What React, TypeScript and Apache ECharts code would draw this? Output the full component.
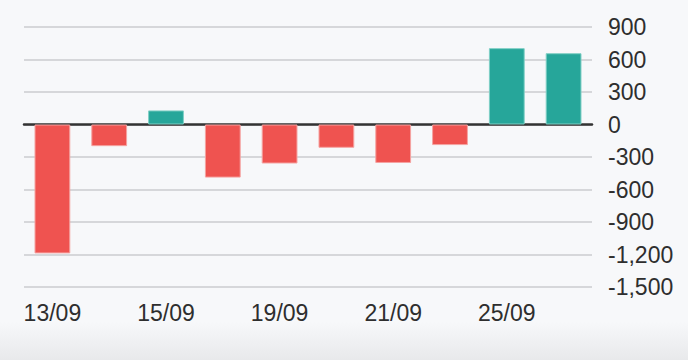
import React, { useEffect, useRef } from "react";
import * as echarts from "echarts";

const categories = ["13/09", "14/09", "15/09", "18/09", "19/09", "20/09", "21/09", "22/09", "25/09", "26/09"];
const values = [-1190, -200, 130, -490, -360, -215, -355, -190, 705, 658];
const yMin = -1500;
const yMax = 900;
const yStep = 300;

const UP = "#26a69a";
const UP_BORDER = "#7fcfc5";
const DOWN = "#ef5350";
const DOWN_BORDER = "#f5a3a1";

export default function App() {
  const ref = useRef<HTMLDivElement>(null);
  useEffect(() => {
    document.body.style.margin = "0";
    const chart = echarts.init(ref.current!, null, { renderer: "svg" });
    const font = "'Liberation Sans', Arial, Helvetica, sans-serif";
    chart.setOption({
      animation: false,
      backgroundColor: "transparent",
      grid: { left: 24, right: 96, top: 27, bottom: 73 },
      xAxis: [
        {
          type: "category",
          data: categories,
          position: "bottom",
          axisLine: { show: false, onZero: false },
          axisTick: { show: false },
          splitLine: { show: false },
          axisLabel: {
            interval: 1,
            margin: 14,
            color: "#2e2e2e",
            fontSize: 23,
            fontFamily: font,
          },
        },
        {
          type: "category",
          data: categories,
          position: "bottom",
          axisLine: { show: true, onZero: true, lineStyle: { color: "#333333", width: 2.5 } },
          axisTick: { show: false },
          axisLabel: { show: false },
          splitLine: { show: false },
        },
      ],
      yAxis: {
        type: "value",
        position: "right",
        min: yMin,
        max: yMax,
        interval: yStep,
        axisLine: { show: false },
        axisTick: { show: false },
        splitLine: { show: true, lineStyle: { color: "#cbcccf", width: 1.6 } },
        axisLabel: {
          margin: 16,
          color: "#2e2e2e",
          fontSize: 23,
          fontFamily: font,
          formatter: (v: number) => v.toLocaleString("en-US"),
        },
      },
      series: [
        {
          type: "bar",
          xAxisIndex: 0,
          barWidth: "63%",
          data: values.map((v) => ({
            value: v,
            itemStyle: {
              color: v >= 0 ? UP : DOWN,
              borderColor: v >= 0 ? UP_BORDER : DOWN_BORDER,
              borderWidth: 1,
            },
          })),
        },
      ],
    });
    return () => chart.dispose();
  }, []);
  return (
    <div
      style={{
        width: 688,
        height: 360,
        background: "linear-gradient(to bottom, #f7f8fa 0px, #f7f8fa 322px, #e8e9eb 360px)",
      }}
    >
      <div ref={ref} style={{ width: 688, height: 360 }} />
    </div>
  );
}
